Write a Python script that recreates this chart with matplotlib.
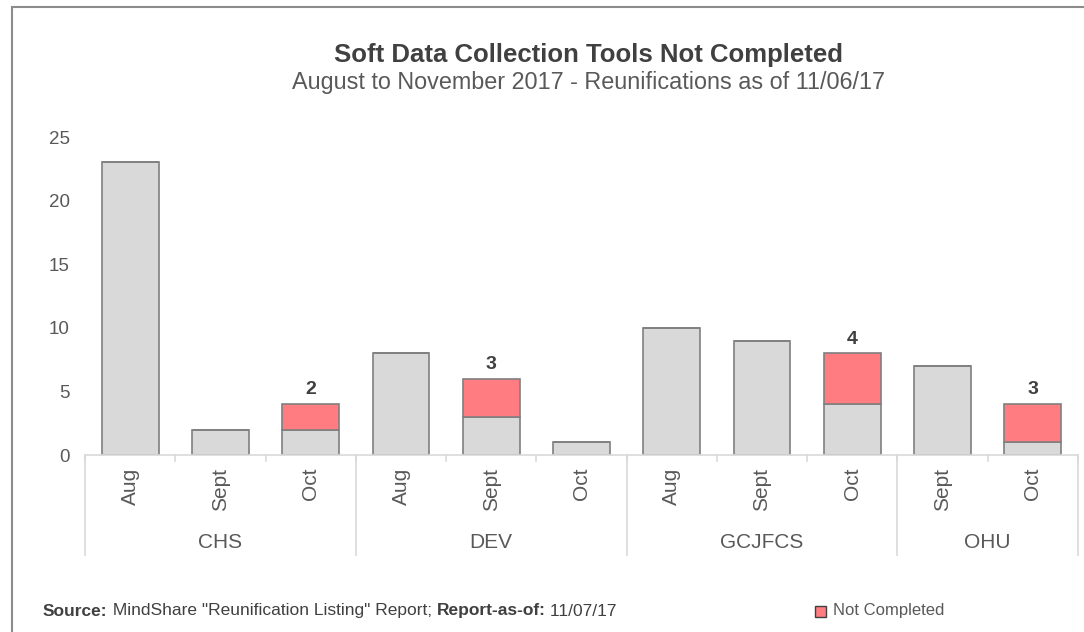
import matplotlib
matplotlib.use("Agg")
import matplotlib.pyplot as plt
from matplotlib.patches import Rectangle
from matplotlib.lines import Line2D

plt.rcParams['font.family'] = ['Liberation Sans', 'DejaVu Sans']

# ---- data ----
groups = ["CHS", "DEV", "GCJFCS", "OHU"]
group_months = [["Aug", "Sept", "Oct"], ["Aug", "Sept", "Oct"],
                ["Aug", "Sept", "Oct"], ["Sept", "Oct"]]
completed = [23, 2, 2, 8, 3, 1, 10, 9, 4, 7, 1]
not_completed = [0, 0, 2, 0, 3, 0, 0, 0, 4, 0, 3]

W, H = 1084, 632
fig = plt.figure(figsize=(W / 100, H / 100), dpi=100)

# plot area in pixels
x0, x1 = 85, 1078
y_top, y_bot = 137, 455
ax = fig.add_axes([x0 / W, 1 - y_bot / H, (x1 - x0) / W, (y_bot - y_top) / H])

grey = "#d9d9d9"
red = "#ff7c80"
edge = "#7f7f7f"
txt = "#595959"

n = len(completed)
xs = list(range(n))
ax.bar(xs, completed, width=0.63, color=grey, edgecolor=edge, linewidth=1.2, zorder=3)
ax.bar(xs, not_completed, width=0.63, bottom=completed, color=red, edgecolor=edge,
       linewidth=1.2, zorder=3, label="Not Completed")
for i, (c, nc) in enumerate(zip(completed, not_completed)):
    if nc > 0:
        ax.text(i, c + nc + 0.45, str(nc), ha="center", va="bottom",
                fontsize=14, fontweight="bold", color="#404040")

ax.set_xlim(-0.5, n - 0.5)
ax.set_ylim(0, 25)
ax.set_yticks([0, 5, 10, 15, 20, 25])
ax.tick_params(axis="y", length=0, labelsize=13.5, labelcolor=txt, pad=10.8)
ax.set_xticks([])
for s in ["top", "right", "left"]:
    ax.spines[s].set_visible(False)
ax.spines["bottom"].set_color(grey)
ax.spines["bottom"].set_linewidth(1.2)
ax.spines["bottom"].set_zorder(4)

# multi-level category axis
ph = y_bot - y_top


def ay(py):
    return (y_bot - py) / ph


tr = ax.get_xaxis_transform()
for b in [i - 0.5 for i in range(n + 1)]:
    ax.add_line(Line2D([b, b], [0, ay(461)], transform=tr, color=grey, lw=1.2, clip_on=False))

i = 0
starts = []
for g, months in zip(groups, group_months):
    starts.append(i)
    for m in months:
        ax.text(i, ay(468), m, transform=tr, rotation=90, ha="center", va="top",
                fontsize=15, color=txt)
        i += 1
starts.append(i)

for k, g in enumerate(groups):
    a, b = starts[k], starts[k + 1]
    ax.text((a + b - 1) / 2, ay(542), g, transform=tr, ha="center", va="center",
            fontsize=15, color=txt)
for s in starts:
    ax.add_line(Line2D([s - 0.5, s - 0.5], [0, ay(555)], transform=tr, color=grey,
                       lw=1.2, clip_on=False))

# titles
fig.text(588 / W, 1 - 55 / H, "Soft Data Collection Tools Not Completed",
         ha="center", va="center", fontsize=18.5, fontweight="bold", color="#404040")
fig.text(588 / W, 1 - 83 / H, "August to November 2017 - Reunifications as of 11/06/17",
         ha="center", va="center", fontsize=16.8, color=txt)

# source line with mixed weights
fig.canvas.draw()
renderer = fig.canvas.get_renderer()
parts = [("Source:", "bold"), (" MindShare \"Reunification Listing\" Report; ", "normal"),
         ("Report-as-of:", "bold"), (" 11/07/17", "normal")]
xp = 43
for s, w in parts:
    t = fig.text(xp / W, 1 - 611 / H, s, ha="left", va="center", fontsize=12.5,
                 fontweight=w, color="#404040")
    bb = t.get_window_extent(renderer)
    xp += bb.width

# legend
fig.patches.append(Rectangle((815 / W, 1 - 617 / H), 11 / W, 11 / H, transform=fig.transFigure,
                             facecolor=red, edgecolor="#404040", lw=1))
fig.text(833 / W, 1 - 611 / H, "Not Completed", ha="left", va="center", fontsize=12, color=txt)

# outer border (partially visible)
fig.patches.append(Rectangle((12 / W, -0.1), 1.2, 1 - 7 / H + 0.1, transform=fig.transFigure,
                             facecolor="none", edgecolor="#8c8c8c", lw=1.5))

fig.savefig("out.png", dpi=100)
